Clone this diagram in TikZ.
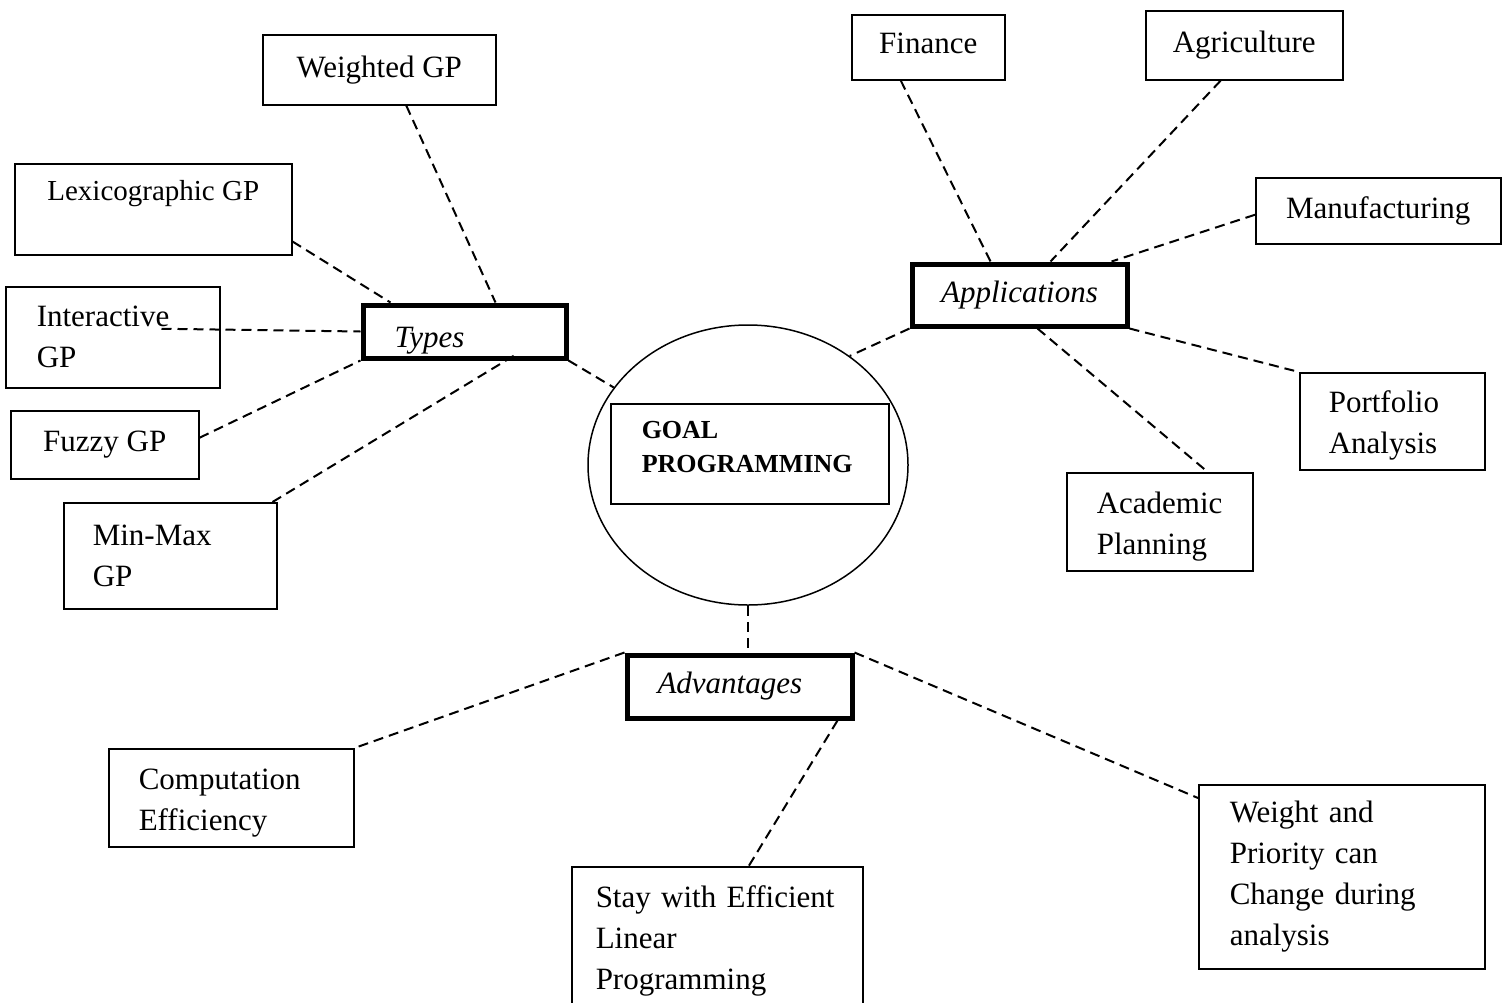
\documentclass[tikz,border=0pt]{standalone}
\usepackage{fontspec}
\setmainfont{Liberation Serif}
\usetikzlibrary{shapes.geometric, positioning}

\begin{document}
\begin{tikzpicture}[x=1pt, y=-1pt,
    leaf/.style={draw, line width=1.5pt, anchor=north west, inner sep=0pt,
       font=\fontsize{31}{41}\selectfont},
    leftleaf/.style={leaf, align=left},
    hub/.style={draw, line width=5pt, anchor=north west, inner sep=0pt,
       font=\fontsize{31}{41}\selectfont\itshape},
    link/.style={line width=2pt, dash pattern=on 10pt off 6pt}]
      \useasboundingbox (0,0) rectangle (1504,1002);
      % Core
      \node[draw, ellipse, line width=1.5pt, minimum width=320pt, minimum height=280pt]
         (core) at (748,465) {};
      \node[leftleaf, minimum height=100pt, inner xsep=31pt, text width=216pt, text depth=48pt,
         font=\fontsize{26}{34}\selectfont\bfseries] (goal) at (610,403) {GOAL\\PROGRAMMING};
      % Hubs
      \node[hub, minimum width=203pt, minimum height=53pt, inner xsep=31.5pt,
         text width=140pt, align=left, text height=39pt, text depth=7pt] (types) at (360.5,302.5) {Types};
      \node[hub, minimum width=215pt, minimum height=62pt] (app) at (909.5,261.5) {Applications};
      \node[hub, minimum width=225pt, minimum height=63pt, inner xsep=30.5pt,
         text width=164pt, align=left] (adv) at (624.5,652.5) {Advantages};
      % Types leaves
      \node[leaf, minimum width=233pt, minimum height=70pt] (weighted) at (262,34) {Weighted GP};
      \node[leaf, minimum width=277pt, minimum height=91pt, text depth=37pt,
         font=\fontsize{29}{38}\selectfont] (lexi) at (14,163) {Lexicographic GP};
      \node[leftleaf, minimum height=101pt, inner xsep=31pt, text width=152pt] (inter) at (5,286) {Interactive\\GP};
      \node[leaf, minimum width=188pt, minimum height=68pt] (fuzzy) at (10,410) {Fuzzy GP};
      \node[leftleaf, minimum height=106pt, inner xsep=29pt, text width=155pt] (minmax) at (63,502) {Min-Max\\GP};
      % Applications leaves
      \node[leaf, minimum width=153pt, minimum height=65pt, text depth=8pt] (finance) at (851,14) {Finance};
      \node[leaf, minimum width=197pt, minimum height=69pt] (agri) at (1145,10) {Agriculture};
      \node[leaf, minimum width=245pt, minimum height=66pt] (manu) at (1255,177) {Manufacturing};
      \node[leftleaf, minimum height=97pt, inner xsep=29pt, text width=127pt, text height=31pt]
         (portfolio) at (1299,372) {Portfolio\\Analysis};
      \node[leftleaf, minimum height=98pt, inner xsep=30pt, text width=126pt, text height=31pt]
         (academic) at (1066,472) {Academic\\Planning};
      % Advantages leaves
      \node[leftleaf, minimum height=98pt, inner xsep=30pt, text width=185pt, text height=31pt]
         (comp) at (108,748) {Computation\\Efficiency};
      \node[leftleaf, minimum height=149pt, inner xsep=24pt, text width=243pt, text depth=90pt]
         (stay) at (571,866) {Stay with Efficient\\Linear\\Programming};
      \node[leftleaf, minimum height=184pt, inner xsep=31pt, text width=224pt]
         (weight) at (1198,784) {Weight and\\Priority can\\Change during\\analysis};
      % Types links
      \draw[link] ([xshift=27pt]weighted.south) -- ([xshift=31pt]types.north);
      \draw[link] ([yshift=14pt]lexi.south east) -- ([xshift=30pt]types.north west);
      \draw[link] ([xshift=-59pt,yshift=8.5pt]inter.east) -- (types.west);
      \draw[link] ([yshift=7pt]fuzzy.east) -- (types.south west);
      \draw[link] ([xshift=-5pt]minmax.north east) -- ([xshift=53pt,yshift=7pt]types.south);
      \draw[link] (types.south east) -- (core.150);
      % Applications links
      \draw[link] (app.south west) -- (core.47);
      \draw[link] ([xshift=-27.5pt]finance.south) -- ([xshift=-29pt]app.north);
      \draw[link] ([xshift=-23.5pt]agri.south) -- ([xshift=31pt]app.north);
      \draw[link] ([yshift=-4pt]manu.west) -- ([xshift=-18pt]app.north east);
      \draw[link] (app.south east) -- (portfolio.north west);
      \draw[link] ([xshift=18pt]app.south) -- ([xshift=48pt]academic.north);
      % Advantages links
      \draw[link] (core.south) -- (core.south |- adv.north);
      \draw[link] (adv.north west) -- (comp.north east);
      \draw[link] ([xshift=-17pt]adv.south east) -- ([xshift=31.5pt]stay.north);
      \draw[link] (adv.north east) -- ([yshift=-14pt]weight.north west);
   \end{tikzpicture}
\end{document}
